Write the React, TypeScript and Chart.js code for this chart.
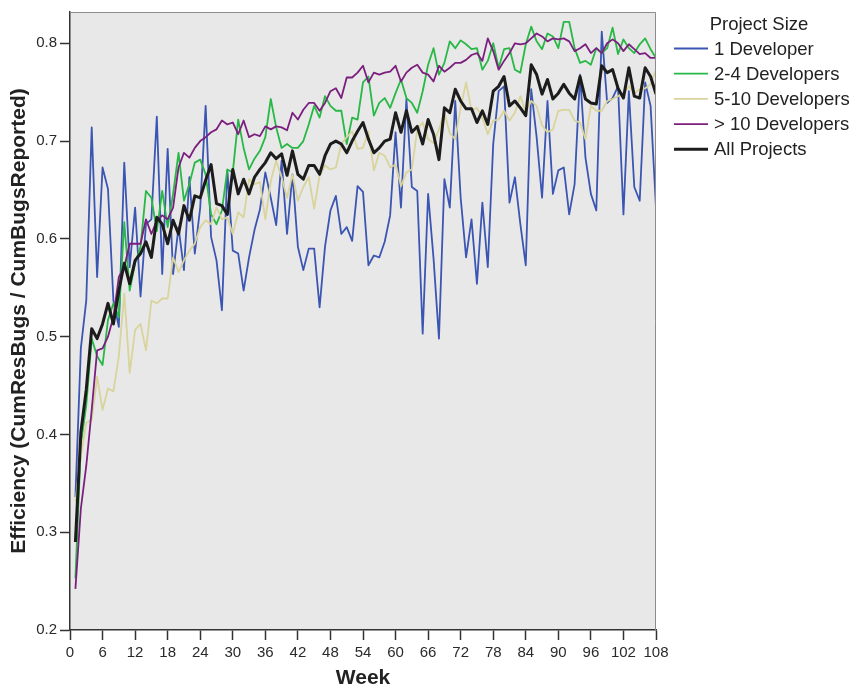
import React, { useEffect, useRef } from "react";
import { Chart, registerables } from "chart.js";

Chart.register(...registerables);

const weeks: number[] = Array.from({ length: 108 }, (_, i) => i + 1);

const oneDev = [
  0.336, 0.488, 0.537, 0.714, 0.561, 0.673, 0.651, 0.537, 0.51, 0.678,
  0.571, 0.632, 0.541, 0.615, 0.62, 0.725, 0.564, 0.692, 0.564, 0.612,
  0.568, 0.663, 0.585, 0.632, 0.736, 0.602, 0.578, 0.527, 0.67, 0.588,
  0.585, 0.547, 0.581, 0.609, 0.63, 0.668, 0.642, 0.614, 0.68, 0.605,
  0.666, 0.592, 0.568, 0.59, 0.59, 0.53, 0.592, 0.629, 0.644, 0.605,
  0.612, 0.598, 0.654, 0.648, 0.573, 0.583, 0.581, 0.597, 0.624, 0.709,
  0.632, 0.743, 0.653, 0.649, 0.503, 0.646, 0.58, 0.498, 0.661, 0.632,
  0.741, 0.642, 0.581, 0.62, 0.554, 0.637, 0.571, 0.697, 0.751, 0.756,
  0.637, 0.663, 0.615, 0.573, 0.753, 0.704, 0.642, 0.741, 0.646, 0.67,
  0.673, 0.625, 0.656, 0.768, 0.683, 0.646, 0.629, 0.812, 0.739, 0.744,
  0.756, 0.625, 0.751, 0.653, 0.639, 0.76, 0.736, 0.632,
];

const twoToFour = [
  0.253, 0.39, 0.43, 0.498, 0.48, 0.471, 0.517, 0.534, 0.52, 0.617,
  0.547, 0.575, 0.592, 0.649, 0.642, 0.608, 0.649, 0.612, 0.646, 0.688,
  0.639, 0.656, 0.678, 0.681, 0.666, 0.625, 0.615, 0.629, 0.671, 0.668,
  0.722, 0.693, 0.671, 0.682, 0.69, 0.704, 0.743, 0.714, 0.693, 0.697,
  0.693, 0.693, 0.7, 0.717, 0.736, 0.724, 0.746, 0.736, 0.731, 0.731,
  0.697, 0.724, 0.722, 0.76, 0.766, 0.726, 0.739, 0.744, 0.734, 0.749,
  0.763, 0.744, 0.739, 0.729, 0.751, 0.778, 0.795, 0.768, 0.78, 0.802,
  0.795, 0.803, 0.799, 0.794, 0.795, 0.773, 0.782, 0.8, 0.775, 0.794,
  0.795, 0.773, 0.77, 0.799, 0.817, 0.802, 0.794, 0.81, 0.807, 0.795,
  0.822, 0.822, 0.795, 0.78, 0.782, 0.778, 0.795, 0.79, 0.795, 0.816,
  0.789, 0.804, 0.795, 0.79, 0.799, 0.805, 0.794, 0.785,
];

const fiveToTen = [
  0.331, 0.378, 0.412, 0.415, 0.459, 0.425, 0.447, 0.444, 0.48, 0.544,
  0.463, 0.507, 0.513, 0.486, 0.537, 0.534, 0.539, 0.539, 0.581, 0.566,
  0.578, 0.588, 0.595, 0.612, 0.619, 0.615, 0.632, 0.62, 0.622, 0.605,
  0.627, 0.622, 0.661, 0.656, 0.658, 0.62, 0.659, 0.68, 0.663, 0.642,
  0.666, 0.639, 0.653, 0.663, 0.631, 0.665, 0.675, 0.671, 0.673, 0.697,
  0.704, 0.71, 0.692, 0.693, 0.71, 0.67, 0.688, 0.685, 0.673, 0.676,
  0.654, 0.668, 0.671, 0.712, 0.719, 0.702, 0.698, 0.712, 0.729, 0.708,
  0.702, 0.734, 0.76, 0.731, 0.734, 0.724, 0.707, 0.721, 0.722, 0.731,
  0.721, 0.729, 0.746, 0.729, 0.741, 0.736, 0.716, 0.709, 0.712, 0.731,
  0.732, 0.732, 0.721, 0.719, 0.702, 0.736, 0.731, 0.731, 0.741, 0.743,
  0.746, 0.748, 0.756, 0.749, 0.753, 0.754, 0.758, 0.773,
];

const overTen = [
  0.242, 0.324, 0.368, 0.425, 0.486, 0.488, 0.5, 0.52, 0.561, 0.571,
  0.595, 0.595, 0.595, 0.62, 0.605, 0.619, 0.624, 0.62, 0.632, 0.673,
  0.688, 0.683, 0.693, 0.7, 0.704, 0.709, 0.712, 0.721, 0.717, 0.719,
  0.707, 0.721, 0.704, 0.707, 0.705, 0.715, 0.712, 0.715, 0.714, 0.711,
  0.729, 0.722, 0.732, 0.739, 0.739, 0.731, 0.739, 0.751, 0.754, 0.744,
  0.765, 0.765, 0.77, 0.777, 0.76, 0.77, 0.768, 0.77, 0.771, 0.777,
  0.761, 0.77, 0.775, 0.778, 0.77, 0.768, 0.761, 0.777, 0.771, 0.775,
  0.78, 0.78, 0.783, 0.788, 0.79, 0.782, 0.805, 0.792, 0.773, 0.782,
  0.79, 0.8, 0.799, 0.8, 0.805, 0.81, 0.807, 0.802, 0.805, 0.804,
  0.805, 0.802, 0.792, 0.795, 0.799, 0.79, 0.795, 0.79, 0.8, 0.804,
  0.8, 0.792, 0.799, 0.794, 0.789, 0.79, 0.785, 0.785,
];

const allProjects = [
  0.29, 0.402, 0.446, 0.508, 0.498, 0.513, 0.534, 0.513, 0.547, 0.575,
  0.554, 0.578, 0.585, 0.597, 0.581, 0.622, 0.615, 0.595, 0.619, 0.605,
  0.634, 0.619, 0.644, 0.642, 0.66, 0.676, 0.636, 0.634, 0.625, 0.671,
  0.646, 0.661, 0.646, 0.663, 0.671, 0.678, 0.688, 0.682, 0.687, 0.665,
  0.69, 0.666, 0.661, 0.675, 0.675, 0.666, 0.685, 0.697, 0.7, 0.697,
  0.688, 0.7, 0.71, 0.719, 0.702, 0.688, 0.693, 0.7, 0.702, 0.729,
  0.709, 0.731, 0.709, 0.715, 0.697, 0.722, 0.707, 0.681, 0.734, 0.729,
  0.753, 0.741, 0.733, 0.733, 0.719, 0.731, 0.717, 0.751, 0.756, 0.766,
  0.736, 0.741, 0.734, 0.726, 0.778, 0.768, 0.748, 0.763, 0.743, 0.749,
  0.758, 0.749, 0.743, 0.766, 0.743, 0.739, 0.738, 0.777, 0.77, 0.773,
  0.754, 0.744, 0.775, 0.746, 0.744, 0.775, 0.766, 0.748,
];

const seriesLabels = ["1 Developer", "2-4 Developers", "5-10 Developers", "> 10 Developers", "All Projects"];
const seriesColors = ["#3b55b3", "#27b845", "#d9d39c", "#7b1f7e", "#1c1c1c"];
const seriesWidths = [1.8, 1.8, 1.8, 1.8, 3];
const yTicks = [0.2, 0.3, 0.4, 0.5, 0.6, 0.7, 0.8];

const FONT = '"Liberation Sans", Arial, Helvetica, sans-serif';

const bgPlugin = {
  id: "bgPlugin",
  beforeDraw(chart: any) {
    const { ctx, chartArea } = chart;
    ctx.save();
    ctx.fillStyle = "#ffffff";
    ctx.fillRect(0, 0, chart.width, chart.height);
    ctx.fillStyle = "#e8e8e8";
    ctx.fillRect(chartArea.left, chartArea.top, chartArea.right - chartArea.left, chartArea.bottom - chartArea.top);
    ctx.restore();
  },
  afterDatasetsDraw(chart: any) {
    const { ctx, chartArea } = chart;
    ctx.save();
    ctx.strokeStyle = "#8c8c8c";
    ctx.lineWidth = 1;
    ctx.beginPath();
    ctx.moveTo(chartArea.left, chartArea.top + 0.5);
    ctx.lineTo(chartArea.right - 0.5, chartArea.top + 0.5);
    ctx.lineTo(chartArea.right - 0.5, chartArea.bottom);
    ctx.stroke();
    ctx.restore();
  },
};

const legendPlugin = {
  id: "customLegend",
  afterDraw(chart: any) {
    const { ctx } = chart;
    ctx.save();
    ctx.font = `18.5px ${FONT}`;
    ctx.fillStyle = "#222222";
    ctx.textBaseline = "middle";
    ctx.textAlign = "center";
    ctx.fillText("Project Size", 759, 25);
    ctx.textAlign = "left";
    chart.data.datasets.forEach((ds: any, i: number) => {
      const y = 48.5 + i * 25.2;
      ctx.strokeStyle = ds.borderColor;
      ctx.lineWidth = ds.borderWidth;
      ctx.beginPath();
      ctx.moveTo(674, y);
      ctx.lineTo(708, y);
      ctx.stroke();
      ctx.fillText(ds.label, 714, y + 1);
    });
    ctx.restore();
  },
};

export default function App() {
  const canvasRef = useRef<HTMLCanvasElement | null>(null);

  useEffect(() => {
    const canvas = canvasRef.current;
    if (!canvas) return;
    const seriesValues = [oneDev, twoToFour, fiveToTen, overTen, allProjects];
    const datasets = seriesValues.map((vals, i) => ({
      label: seriesLabels[i],
      data: weeks.map((w, j) => ({ x: w, y: vals[j] })),
      borderColor: seriesColors[i],
      backgroundColor: seriesColors[i],
      borderWidth: seriesWidths[i],
      pointRadius: 0,
      pointHoverRadius: 0,
      tension: 0,
      fill: false,
      order: i === 4 ? 0 : 5 - i,
      borderJoinStyle: "round" as const,
    }));

    const chart = new Chart(canvas, {
      type: "line",
      data: { datasets },
      plugins: [bgPlugin, legendPlugin],
      options: {
        animation: false,
        responsive: false,
        devicePixelRatio: 1,
        layout: { padding: { top: 11, right: 199, left: 0, bottom: 0 } },
        plugins: {
          legend: { display: false },
          tooltip: { enabled: false },
        },
        scales: {
          x: {
            type: "linear",
            min: 0,
            max: 108,
            position: "bottom",
            afterFit: (s: any) => {
              s.height = 60;
            },
            ticks: {
              stepSize: 6,
              autoSkip: false,
              maxRotation: 0,
              padding: 4,
              color: "#2a2a2a",
              font: { family: FONT, size: 15 },
            },
            grid: {
              drawOnChartArea: false,
              drawTicks: true,
              tickLength: 10,
              tickColor: "#333333",
              tickWidth: 1.5,
            },
            border: { display: true, color: "#333333", width: 1.5 },
            title: {
              display: true,
              text: "Week",
              color: "#222222",
              font: { family: FONT, size: 21, weight: "bold" },
              padding: { top: 0, bottom: -1 },
            },
          },
          y: {
            type: "linear",
            min: 0.2,
            max: 0.832,
            afterFit: (s: any) => {
              s.width = 70;
            },
            afterBuildTicks: (s: any) => {
              s.ticks = yTicks.map((v) => ({ value: v }));
            },
            ticks: {
              padding: 3,
              color: "#2a2a2a",
              font: { family: FONT, size: 15 },
              callback: (v: any) => Number(v).toFixed(1),
            },
            grid: {
              drawOnChartArea: false,
              drawTicks: true,
              tickLength: 10,
              tickColor: "#333333",
              tickWidth: 1.5,
            },
            border: { display: true, color: "#333333", width: 1.5 },
            title: {
              display: true,
              text: "Efficiency (CumResBugs / CumBugsReported)",
              color: "#222222",
              font: { family: FONT, size: 21, weight: "bold" },
              padding: { top: 7, bottom: 0 },
            },
          },
        },
      },
    });
    return () => chart.destroy();
  }, []);

  return (
    <div style={{ position: "fixed", left: 0, top: 0, width: 855, height: 690, background: "#fff" }}>
      <canvas ref={canvasRef} width={855} height={690} style={{ width: 855, height: 690, display: "block" }} />
    </div>
  );
}
